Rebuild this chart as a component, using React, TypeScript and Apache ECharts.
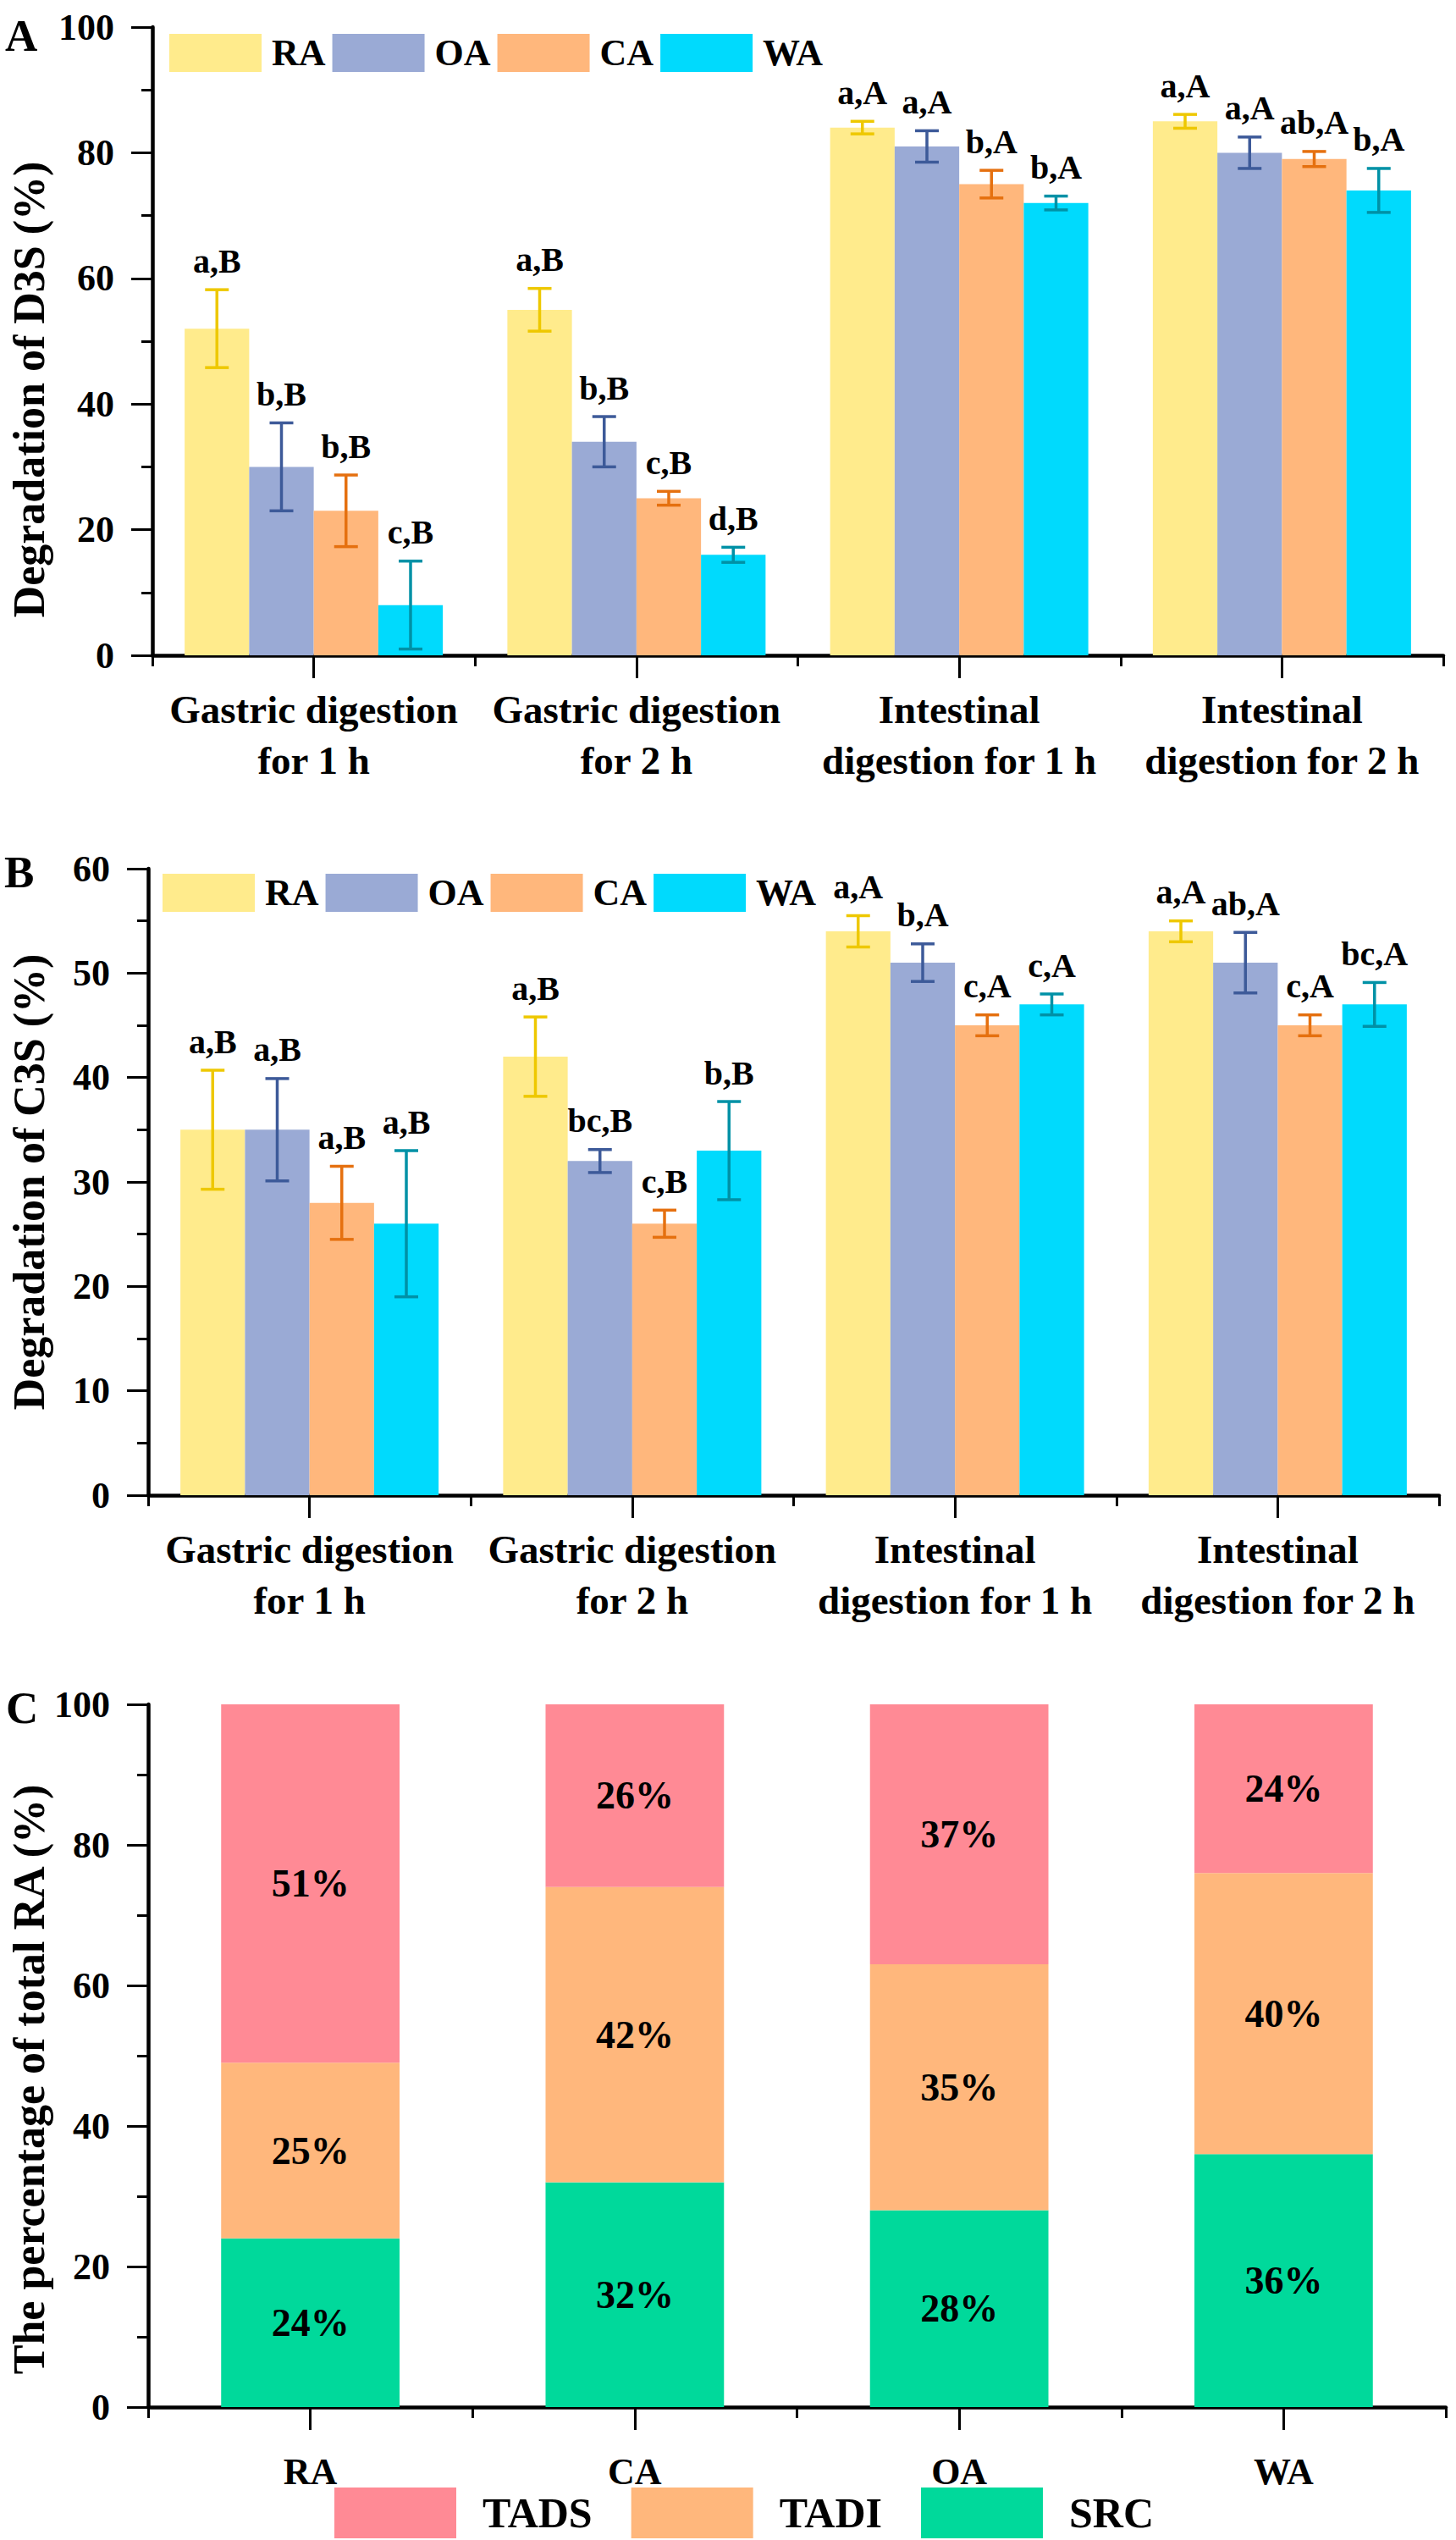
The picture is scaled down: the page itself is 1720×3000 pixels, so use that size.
import React, { useEffect, useRef } from "react";
import * as echarts from "echarts";

const FONT = "'Liberation Serif', 'Times New Roman', serif";

// ---------- data ----------
const categoriesAB = [
  "Gastric digestion\nfor 1 h",
  "Gastric digestion\nfor 2 h",
  "Intestinal\ndigestion for 1 h",
  "Intestinal\ndigestion for 2 h",
];
const groupNames = ["RA", "OA", "CA", "WA"];

// Panel A: degradation of D3S (%)
const d3sRA = [52, 55, 84, 85];
const d3sOA = [30, 34, 81, 80];
const d3sCA = [23, 25, 75, 79];
const d3sWA = [8, 16, 72, 74];
const d3sRAErr = [6.2, 3.4, 1.0, 1.1];
const d3sOAErr = [7.0, 4.0, 2.5, 2.5];
const d3sCAErr = [5.7, 1.1, 2.2, 1.2];
const d3sWAErr = [7.0, 1.2, 1.1, 3.5];
const d3sRALetters = ["a,B", "a,B", "a,A", "a,A"];
const d3sOALetters = ["b,B", "b,B", "a,A", "a,A"];
const d3sCALetters = ["b,B", "c,B", "b,A", "ab,A"];
const d3sWALetters = ["c,B", "d,B", "b,A", "b,A"];

// Panel B: degradation of C3S (%)
const c3sRA = [35, 42, 54, 54];
const c3sOA = [35, 32, 51, 51];
const c3sCA = [28, 26, 45, 45];
const c3sWA = [26, 33, 47, 47];
const c3sRAErr = [5.7, 3.8, 1.5, 1.0];
const c3sOAErr = [4.9, 1.1, 1.8, 2.9];
const c3sCAErr = [3.5, 1.3, 1.0, 1.0];
const c3sWAErr = [7.0, 4.7, 1.0, 2.1];
const c3sRALetters = ["a,B", "a,B", "a,A", "a,A"];
const c3sOALetters = ["a,B", "bc,B", "b,A", "ab,A"];
const c3sCALetters = ["a,B", "c,B", "c,A", "c,A"];
const c3sWALetters = ["a,B", "b,B", "c,A", "bc,A"];

// Panel C: percentage of total RA (%)
const categoriesC = ["RA", "CA", "OA", "WA"];
const srcValues = [24, 32, 28, 36];
const tadiValues = [25, 42, 35, 40];
const tadsValues = [51, 26, 37, 24];

// y axis tick ranges
const yTicksA = { min: 0, max: 100, interval: 20 };
const yTicksB = { min: 0, max: 60, interval: 10 };
const yTicksC = { min: 0, max: 100, interval: 20 };

// ---------- styles ----------
const barColors = ["#FFEB8C", "#9AAAD5", "#FFB77C", "#00DAFD"];
const errColors = ["#EEC800", "#3D5A99", "#E5700F", "#0091A6"];
const stackColors = { TADS: "#FF8A95", TADI: "#FFB77C", SRC: "#00D99B" };

const axisLineStyle = { color: "#000", width: 4.5 };
const tickStyle = { color: "#000", width: 3 };

function yAxisDef(gridIndex: number, r: { min: number; max: number; interval: number }) {
  return {
    type: "value",
    gridIndex,
    min: r.min,
    max: r.max,
    interval: r.interval,
    axisLine: { show: true, lineStyle: axisLineStyle },
    axisTick: { show: true, length: 25, lineStyle: tickStyle },
    minorTick: { show: true, splitNumber: 2, length: 13, lineStyle: tickStyle },
    splitLine: { show: false },
    axisLabel: {
      fontFamily: FONT,
      fontWeight: "bold",
      fontSize: 44,
      color: "#000",
      margin: 45,
    },
  };
}

function xAxisMain(gridIndex: number, data: string[], fontSize: number, margin: number) {
  return {
    type: "category",
    gridIndex,
    data,
    position: "bottom",
    boundaryGap: true,
    axisLine: { show: true, onZero: false, lineStyle: axisLineStyle },
    axisTick: { show: true, alignWithLabel: true, interval: 0, length: 27, lineStyle: tickStyle },
    axisLabel: {
      interval: 0,
      fontFamily: FONT,
      fontWeight: "bold",
      fontSize,
      lineHeight: 60,
      color: "#000",
      margin,
      align: "center",
    },
    splitLine: { show: false },
  };
}

function xAxisMinor(gridIndex: number, data: string[]) {
  return {
    type: "category",
    gridIndex,
    data,
    position: "bottom",
    boundaryGap: true,
    axisLine: { show: false },
    axisTick: { show: true, alignWithLabel: false, interval: 0, length: 13, lineStyle: tickStyle },
    axisLabel: { show: false },
    splitLine: { show: false },
  };
}

function barSeries(name: string, values: number[], idx: number, axis: number) {
  return {
    name,
    type: "bar",
    xAxisIndex: axis * 2,
    yAxisIndex: axis,
    data: values,
    barGap: "0%",
    barCategoryGap: "20%",
    itemStyle: { color: barColors[idx] },
    z: 2,
  };
}

function errSeries(
  name: string,
  values: number[],
  errs: number[],
  letters: string[],
  idx: number,
  axis: number
) {
  return {
    name: name + " error",
    type: "custom",
    xAxisIndex: axis * 2,
    yAxisIndex: axis,
    clip: false,
    z: 5,
    encode: { x: 0, y: 1 },
    data: values.map((v, i) => [i, v, errs[i]]),
    renderItem: (params: any, api: any) => {
      const ci = api.value(0);
      const m = api.value(1);
      const e = api.value(2);
      const band = api.size([1, 0])[0];
      const barW = (band * 0.8) / 4;
      const xc = api.coord([ci, m])[0] - band * 0.4 + (idx + 0.5) * barW;
      const yTop = api.coord([ci, m + e])[1];
      const yBot = api.coord([ci, m - e])[1];
      const cap = 14;
      const ls = { stroke: errColors[idx], lineWidth: 3.5 };
      return {
        type: "group",
        children: [
          { type: "line", shape: { x1: xc, y1: yTop, x2: xc, y2: yBot }, style: ls },
          { type: "line", shape: { x1: xc - cap, y1: yTop, x2: xc + cap, y2: yTop }, style: ls },
          { type: "line", shape: { x1: xc - cap, y1: yBot, x2: xc + cap, y2: yBot }, style: ls },
          {
            type: "text",
            style: {
              text: letters[params.dataIndex],
              x: xc,
              y: yTop - 14,
              textAlign: "center",
              textVerticalAlign: "bottom",
              fontFamily: FONT,
              fontWeight: "bold",
              fontSize: 40,
              fill: "#000",
            },
          },
        ],
      };
    },
  };
}

function legendAB(left: number, top: number) {
  return {
    data: groupNames,
    left,
    top,
    orient: "horizontal",
    icon: "rect",
    itemWidth: 109,
    itemHeight: 45,
    itemGap: 8,
    selectedMode: false,
    textStyle: {
      fontFamily: FONT,
      fontWeight: "bold",
      fontSize: 44,
      color: "#000",
      padding: [0, 0, 0, 7],
    },
  };
}

function panelText(text: string, x: number, y: number) {
  return {
    type: "text",
    x,
    y,
    style: {
      text,
      fontFamily: FONT,
      fontWeight: "bold",
      fontSize: 53,
      fill: "#000",
      textAlign: "left",
      textVerticalAlign: "middle",
    },
  };
}

function yTitle(text: string, y: number) {
  return {
    type: "text",
    x: 34,
    y,
    rotation: Math.PI / 2,
    style: {
      text,
      fontFamily: FONT,
      fontWeight: "bold",
      fontSize: 52,
      fill: "#000",
      textAlign: "center",
      textVerticalAlign: "middle",
    },
  };
}

const seriesD3S = [d3sRA, d3sOA, d3sCA, d3sWA];
const errD3S = [d3sRAErr, d3sOAErr, d3sCAErr, d3sWAErr];
const lettersD3S = [d3sRALetters, d3sOALetters, d3sCALetters, d3sWALetters];
const seriesC3S = [c3sRA, c3sOA, c3sCA, c3sWA];
const errC3S = [c3sRAErr, c3sOAErr, c3sCAErr, c3sWAErr];
const lettersC3S = [c3sRALetters, c3sOALetters, c3sCALetters, c3sWALetters];

const stackLabel = {
  show: true,
  position: "inside",
  formatter: "{c}%",
  fontFamily: FONT,
  fontWeight: "bold",
  fontSize: 46,
  color: "#000",
};

const option: any = {
  animation: false,
  backgroundColor: "#fff",
  grid: [
    { left: 180, top: 32, width: 1525, height: 742 },
    { left: 175, top: 1026, width: 1525, height: 740 },
    { left: 175, top: 2013, width: 1533, height: 830 },
  ],
  xAxis: [
    xAxisMain(0, categoriesAB, 47, 34),
    xAxisMinor(0, categoriesAB),
    xAxisMain(1, categoriesAB, 47, 34),
    xAxisMinor(1, categoriesAB),
    xAxisMain(2, categoriesC, 44, 46),
    xAxisMinor(2, categoriesC),
  ],
  yAxis: [yAxisDef(0, yTicksA), yAxisDef(1, yTicksB), yAxisDef(2, yTicksC)],
  legend: [
    legendAB(195, 35),
    legendAB(187, 1027),
    {
      data: ["TADS", "TADI", "SRC"],
      left: 390,
      top: 2933,
      icon: "rect",
      itemWidth: 144,
      itemHeight: 60,
      itemGap: 46,
      selectedMode: false,
      textStyle: {
        fontFamily: FONT,
        fontWeight: "bold",
        fontSize: 50,
        color: "#000",
        padding: [0, 0, 0, 26],
      },
    },
  ],
  graphic: [
    panelText("A", 6, 42),
    panelText("B", 5, 1030),
    panelText("C", 7, 2017),
    yTitle("Degradation of D3S (%)", 460),
    yTitle("Degradation of C3S (%)", 1396),
    yTitle("The percentage of total RA (%)", 2456),
  ],
  series: [
    ...groupNames.map((n, i) => barSeries(n, seriesD3S[i], i, 0)),
    ...groupNames.map((n, i) => errSeries(n, seriesD3S[i], errD3S[i], lettersD3S[i], i, 0)),
    ...groupNames.map((n, i) => barSeries(n, seriesC3S[i], i, 1)),
    ...groupNames.map((n, i) => errSeries(n, seriesC3S[i], errC3S[i], lettersC3S[i], i, 1)),
    {
      name: "SRC",
      type: "bar",
      stack: "total",
      xAxisIndex: 4,
      yAxisIndex: 2,
      data: srcValues,
      barCategoryGap: "45%",
      itemStyle: { color: stackColors.SRC },
      label: stackLabel,
    },
    {
      name: "TADI",
      type: "bar",
      stack: "total",
      xAxisIndex: 4,
      yAxisIndex: 2,
      data: tadiValues,
      barCategoryGap: "45%",
      itemStyle: { color: stackColors.TADI },
      label: stackLabel,
    },
    {
      name: "TADS",
      type: "bar",
      stack: "total",
      xAxisIndex: 4,
      yAxisIndex: 2,
      data: tadsValues,
      barCategoryGap: "45%",
      itemStyle: { color: stackColors.TADS },
      label: stackLabel,
    },
  ],
};

export default function App() {
  const ref = useRef<HTMLDivElement>(null);
  useEffect(() => {
    if (!ref.current) return;
    const chart = echarts.init(ref.current, null, { renderer: "svg", width: 1720, height: 3000 });
    chart.setOption(option);
    return () => chart.dispose();
  }, []);
  return (
    <div
      ref={ref}
      style={{ position: "absolute", left: 0, top: 0, width: 1720, height: 3000, background: "#fff" }}
    />
  );
}
